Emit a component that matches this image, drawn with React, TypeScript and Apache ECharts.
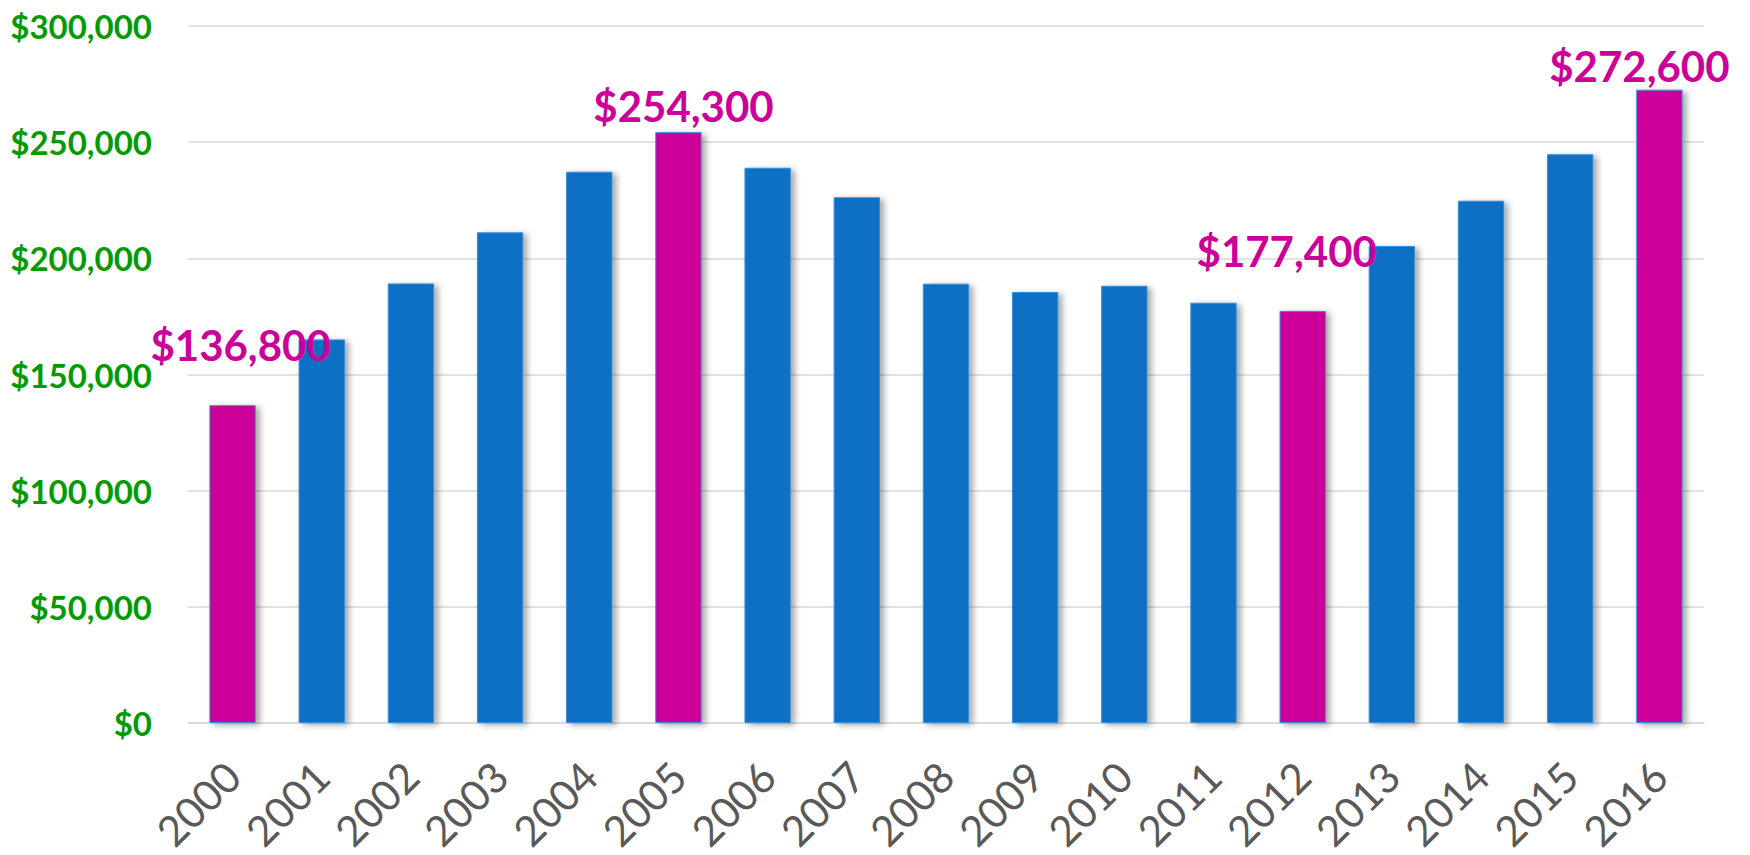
import React, { useEffect, useRef } from "react";
import * as echarts from "echarts";

const years = ["2000", "2001", "2002", "2003", "2004", "2005", "2006", "2007", "2008", "2009", "2010", "2011", "2012", "2013", "2014", "2015", "2016"];
const prices = [136800, 165100, 189200, 211200, 237300, 254300, 239000, 226300, 189100, 185500, 188200, 180900, 177400, 205300, 224800, 244800, 272600];
const highlighted = ["2000", "2005", "2012", "2016"];

const BLUE = "#1070C4";
const MAGENTA = "#CC0099";

const fmt = (v: number) => "$" + v.toLocaleString("en-US");

const labelOffsets: Record<string, [number, number]> = {
  "2000": [8, -34],
  "2005": [5, 0],
  "2012": [-16, -34],
  "2016": [-20, 2],
};

export default function App() {
  const ref = useRef<HTMLDivElement>(null);
  useEffect(() => {
    if (!ref.current) return;
    const chart = echarts.init(ref.current, undefined, { renderer: "svg" });
    const data = prices.map((v, i) => {
      const y = years[i];
      const hi = highlighted.includes(y);
      return {
        value: v,
        itemStyle: { color: hi ? MAGENTA : BLUE },
        label: hi
          ? {
              show: true,
              position: "top",
              offset: labelOffsets[y],
              formatter: (p: any) => fmt(p.value),
              color: MAGENTA,
              fontFamily: "Lato",
              fontWeight: "bold",
              fontSize: 42,
            }
          : { show: false },
      };
    });
    chart.setOption({
      animation: false,
      backgroundColor: "#ffffff",
      grid: { left: 188, right: 46, top: 26, bottom: 132, containLabel: false },
      xAxis: {
        type: "category",
        data: years,
        axisLine: { show: true, lineStyle: { color: "#D9D9D9", width: 1.5 } },
        axisTick: { show: false },
        axisLabel: {
          rotate: 45,
          margin: 46,
          color: "#595959",
          fontFamily: "Lato",
          fontSize: 42,
          interval: 0,
        },
      },
      yAxis: {
        type: "value",
        min: 0,
        max: 300000,
        interval: 50000,
        axisLine: { show: false },
        axisTick: { show: false },
        splitLine: { lineStyle: { color: "#D9D9D9", width: 1.5 } },
        axisLabel: {
          margin: 36,
          color: "#009B00",
          fontFamily: "Lato",
          fontWeight: "bold",
          fontSize: 33,
          formatter: (v: number) => fmt(v),
        },
      },
      series: [
        {
          type: "bar",
          data,
          barWidth: "52%",
          itemStyle: {
            borderColor: "#3A8DD6",
            borderWidth: 1,
            shadowBlur: 6,
            shadowOffsetX: 4,
            shadowOffsetY: 2,
            shadowColor: "rgba(0,0,0,0.35)",
          },
        },
      ],
    });
    return () => chart.dispose();
  }, []);
  return (
    <div
      ref={ref}
      style={{ position: "absolute", left: 0, top: 0, width: 1750, height: 855 }}
    />
  );
}
